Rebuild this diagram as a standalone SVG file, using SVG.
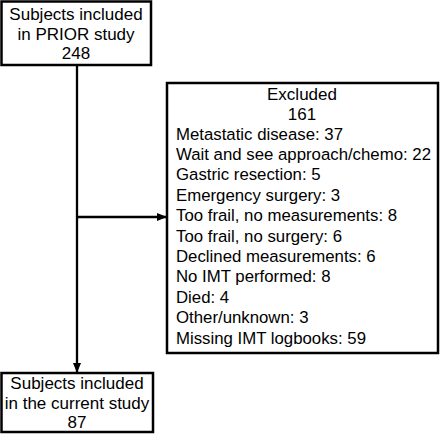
<svg xmlns="http://www.w3.org/2000/svg" width="440" height="435" viewBox="0 0 440 435">
<style>
.box{fill:#fff;stroke:#000;stroke-width:2.5}
.t{font-family:"Liberation Sans",Arial,sans-serif;font-size:17px;fill:#000}
.s{font-size:16.8px}
.c{text-anchor:middle}
.ln{stroke:#000;stroke-width:2.3;fill:none}
</style>
<defs>
<marker id="ah" viewBox="0 0 10 8" refX="10" refY="4" markerWidth="10" markerHeight="8" markerUnits="userSpaceOnUse" orient="auto">
<path d="M0,0 L10,4 L0,8 Z" fill="#000"/>
</marker>
</defs>
<rect width="440" height="435" fill="#fff"/>
<g id="connectors">
<line class="ln" x1="77" y1="65" x2="77" y2="373" marker-end="url(#ah)"/>
<line class="ln" x1="77" y1="217" x2="167" y2="217" marker-end="url(#ah)"/>
</g>
<g id="prior">
<rect class="box" x="1.5" y="1.5" width="149.5" height="63.5"/>
<text class="t c" x="76" y="20">Subjects included</text>
<text class="t c" x="76" y="39.5">in PRIOR study</text>
<text class="t c" x="76" y="59">248</text>
</g>
<g id="excluded">
<rect class="box" x="167" y="83" width="271" height="270"/>
<text class="t c" x="302" y="100">Excluded</text>
<text class="t c" x="302" y="119.5">161</text>
<text class="t s" x="176" y="139.5">Metastatic disease: 37</text>
<text class="t s" x="176" y="159.9">Wait and see approach/chemo: 22</text>
<text class="t s" x="176" y="180.3">Gastric resection: 5</text>
<text class="t s" x="176" y="200.7">Emergency surgery: 3</text>
<text class="t s" x="176" y="221.1">Too frail, no measurements: 8</text>
<text class="t s" x="176" y="241.5">Too frail, no surgery: 6</text>
<text class="t s" x="176" y="261.9">Declined measurements: 6</text>
<text class="t s" x="176" y="282.3">No IMT performed: 8</text>
<text class="t s" x="176" y="302.7">Died: 4</text>
<text class="t s" x="176" y="323.1">Other/unknown: 3</text>
<text class="t s" x="176" y="343.5">Missing IMT logbooks: 59</text>
</g>
<g id="current">
<rect class="box" x="1.5" y="373" width="151.5" height="59"/>
<text class="t c" x="77" y="389">Subjects included</text>
<text class="t c" x="77" y="408.5">in the current study</text>
<text class="t c" x="77" y="428">87</text>
</g>
</svg>
